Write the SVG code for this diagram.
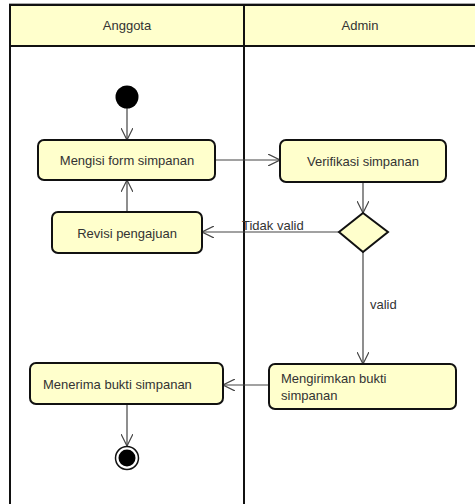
<svg xmlns="http://www.w3.org/2000/svg" width="475" height="504" viewBox="0 0 475 504">
<defs>
<style>
.lane{fill:#fff;stroke:#111;stroke-width:2}
.hdr{fill:#ffffcc;stroke:#111;stroke-width:2}
.act{fill:#ffffcc;stroke:#111;stroke-width:2}
.conn{fill:none;stroke:#444;stroke-width:1.2}
.t{font-family:"Liberation Sans",Arial,sans-serif;font-size:13px;fill:#333}
.tc{text-anchor:middle}
</style>
<marker id="arr" viewBox="0 0 12 12" markerWidth="12" markerHeight="12" refX="12" refY="6" orient="auto" markerUnits="userSpaceOnUse">
<path d="M0,0 L12,6 L0,12" fill="none" stroke="#444" stroke-width="1.2"/>
</marker>
</defs>
<rect x="0" y="0" width="475" height="504" fill="#fff"/>
<line x1="9" y1="3.5" x2="475" y2="3.5" stroke="#aaa" stroke-width="1"/>
<line x1="9" y1="503" x2="475" y2="503" stroke="#aaa" stroke-width="1.5"/>
<g id="lane-anggota">
<rect class="lane" x="10" y="5" width="234" height="510"/>
<rect class="hdr" x="10" y="5" width="234" height="41"/>
<text class="t tc" x="127" y="30">Anggota</text>
</g>
<g id="lane-admin">
<rect class="lane" x="244" y="5" width="240" height="510"/>
<rect class="hdr" x="244" y="5" width="240" height="41"/>
<text class="t tc" x="360" y="30">Admin</text>
</g>
<g id="connectors">
<line class="conn" x1="127" y1="108" x2="127" y2="140" marker-end="url(#arr)"/>
<line class="conn" x1="215" y1="160" x2="280" y2="160" marker-end="url(#arr)"/>
<line class="conn" x1="363" y1="182" x2="363" y2="213" marker-end="url(#arr)"/>
<line class="conn" x1="339" y1="232" x2="202" y2="232" marker-end="url(#arr)"/>
<text class="t" x="242" y="230">Tidak valid</text>
<line class="conn" x1="127" y1="212" x2="127" y2="180" marker-end="url(#arr)"/>
<line class="conn" x1="363" y1="252" x2="363" y2="364" marker-end="url(#arr)"/>
<text class="t" x="370" y="309">valid</text>
<line class="conn" x1="269" y1="385" x2="223" y2="385" marker-end="url(#arr)"/>
<line class="conn" x1="127" y1="404" x2="127" y2="446" marker-end="url(#arr)"/>
</g>
<g id="start">
<circle cx="127" cy="97" r="11.5" fill="#000"/>
</g>
<g id="mengisi">
<rect class="act" x="38" y="140" width="177" height="40" rx="6"/>
<text class="t tc" x="127" y="165">Mengisi form simpanan</text>
</g>
<g id="verifikasi">
<rect class="act" x="280" y="140" width="166" height="42" rx="6"/>
<text class="t tc" x="363" y="166">Verifikasi simpanan</text>
</g>
<g id="decision">
<polygon class="act" points="363,213 388,232 363,252 339,232"/>
</g>
<g id="revisi">
<rect class="act" x="52" y="212" width="150" height="41" rx="6"/>
<text class="t tc" x="127" y="238">Revisi pengajuan</text>
</g>
<g id="mengirimkan">
<rect class="act" x="269" y="364" width="187" height="45" rx="6"/>
<text class="t" x="281" y="383">Mengirimkan bukti</text>
<text class="t" x="281" y="400">simpanan</text>
</g>
<g id="menerima">
<rect class="act" x="30" y="363" width="193" height="41" rx="6"/>
<text class="t" x="43" y="389">Menerima bukti simpanan</text>
</g>
<g id="end">
<circle cx="127" cy="458" r="11.5" fill="#fff" stroke="#111" stroke-width="1.5"/>
<circle cx="127" cy="458" r="8.5" fill="#000"/>
</g>
</svg>
